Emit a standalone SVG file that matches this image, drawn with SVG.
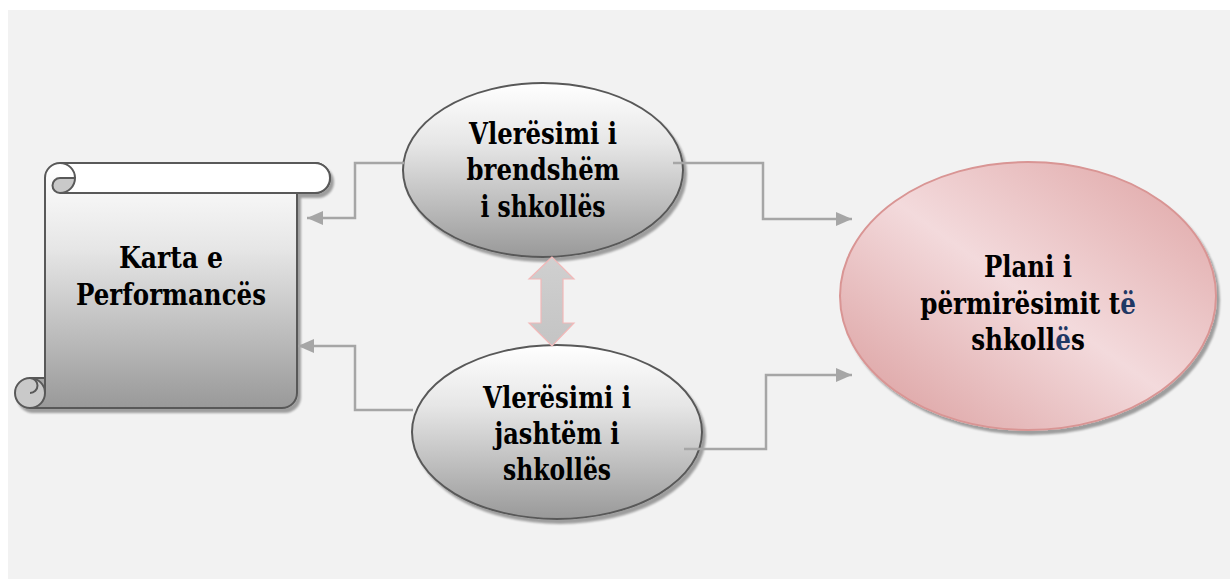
<svg xmlns="http://www.w3.org/2000/svg" width="1230" height="579" viewBox="0 0 1230 579">
<style>
.t{font-family:'DejaVu Serif',serif;font-weight:bold;font-size:29px;fill:#000;text-anchor:middle}
.b{fill:#1f3864}
.con{fill:none;stroke:#a6a6a6;stroke-width:2.5;marker-end:url(#ah)}
.gs{stroke:#595959;stroke-width:2}
</style>
<defs>
<linearGradient id="gg" x1="0" y1="0" x2="0" y2="1">
<stop offset="0" stop-color="#ffffff"/>
<stop offset="0.35" stop-color="#e6e6e6"/>
<stop offset="1" stop-color="#999999"/>
</linearGradient>
<linearGradient id="gp" x1="1" y1="0" x2="0" y2="1">
<stop offset="0" stop-color="#dea2a2"/>
<stop offset="0.5" stop-color="#f3dadc"/>
<stop offset="1" stop-color="#d99a9a"/>
</linearGradient>
<linearGradient id="ga" x1="0" y1="0" x2="0" y2="1">
<stop offset="0" stop-color="#d0d0d0"/>
<stop offset="1" stop-color="#c4c4c4"/>
</linearGradient>
<filter id="sh" x="-10%" y="-10%" width="130%" height="130%">
<feGaussianBlur in="SourceAlpha" stdDeviation="1.2"/>
<feOffset dx="3" dy="4"/>
<feComponentTransfer><feFuncA type="linear" slope="0.35"/></feComponentTransfer>
<feMerge><feMergeNode/><feMergeNode in="SourceGraphic"/></feMerge>
</filter>
<marker id="ah" markerWidth="16" markerHeight="14" refX="16" refY="7" orient="auto" markerUnits="userSpaceOnUse">
<path d="M0,0 L16,7 L0,14 Z" fill="#a6a6a6"/>
</marker>
</defs>
<rect x="0" y="0" width="1230" height="579" fill="#ffffff"/>
<rect x="8" y="10" width="1222" height="569" fill="#f2f2f2"/>

<g id="karta">
<g filter="url(#sh)">
<path d="M45 178 A15 15 0 0 1 60 163 H315 A15 15 0 0 1 315 193 H297 V393 A15 15 0 0 1 282 408 H30 V378 H45 Z" fill="url(#gg)" class="gs"/>
<circle cx="30" cy="393" r="15" fill="#c9c9c9" class="gs"/>
</g>
<path d="M60 163 H315 A15 15 0 0 1 315 193 H60" fill="#ffffff" class="gs"/>
<path d="M75 178 A15 15 0 0 1 60 193 A7.5 7.5 0 0 1 60 178 Z" fill="#c9c9c9" class="gs"/>
<path d="M60 163 A15 15 0 0 1 75 178" fill="none" class="gs"/>
<path d="M30 378 A7.5 7.5 0 0 1 30 393" fill="none" class="gs"/>
<line x1="45" y1="178" x2="45" y2="393" class="gs"/>
<text class="t" x="171" y="268" textLength="104" lengthAdjust="spacingAndGlyphs">Karta e</text>
<text class="t" x="171" y="305" textLength="190" lengthAdjust="spacingAndGlyphs">Performancës</text>
</g>

<g id="brendshem">
<ellipse cx="543" cy="170" rx="140" ry="87" fill="url(#gg)" class="gs" filter="url(#sh)"/>
<text class="t" x="543" y="144" textLength="148" lengthAdjust="spacingAndGlyphs">Vlerësimi i</text>
<text class="t" x="543" y="180" textLength="153" lengthAdjust="spacingAndGlyphs">brendshëm</text>
<text class="t" x="543" y="217" textLength="125" lengthAdjust="spacingAndGlyphs">i shkollës</text>
</g>

<g id="jashtem">
<ellipse cx="557" cy="432" rx="145" ry="87" fill="url(#gg)" class="gs" filter="url(#sh)"/>
<text class="t" x="557" y="408" textLength="148" lengthAdjust="spacingAndGlyphs">Vlerësimi i</text>
<text class="t" x="557" y="444" textLength="125" lengthAdjust="spacingAndGlyphs">jashtëm i</text>
<text class="t" x="557" y="480" textLength="108" lengthAdjust="spacingAndGlyphs">shkollës</text>
</g>

<g id="plani">
<ellipse cx="1028" cy="296" rx="188" ry="134" fill="url(#gp)" stroke="#d99594" stroke-width="2" filter="url(#sh)"/>
<text class="t" x="1028" y="277" textLength="88" lengthAdjust="spacingAndGlyphs">Plani i</text>
<text class="t" transform="translate(1028 314) scale(0.85 1)" x="0" y="0">përmirësimit t<tspan class="b">ë</tspan></text>
<text class="t" transform="translate(1028 350) scale(0.85 1)" x="0" y="0">shkoll<tspan class="b">ë</tspan>s</text>
</g>

<g id="connectors">
<path class="con" d="M404 163 H355 V218 H307"/>
<path class="con" d="M413 410 H355 V346 H298"/>
<path class="con" d="M673 163 H763 V219 H852"/>
<path class="con" d="M684 449 H766 V375 H852"/>
<polygon points="552,257 529,279 541,279 541,323 529,323 552,346 574,323 563,323 563,279 574,279" fill="url(#ga)" stroke="#f2b8b8" stroke-width="1.2"/>
</g>
</svg>
